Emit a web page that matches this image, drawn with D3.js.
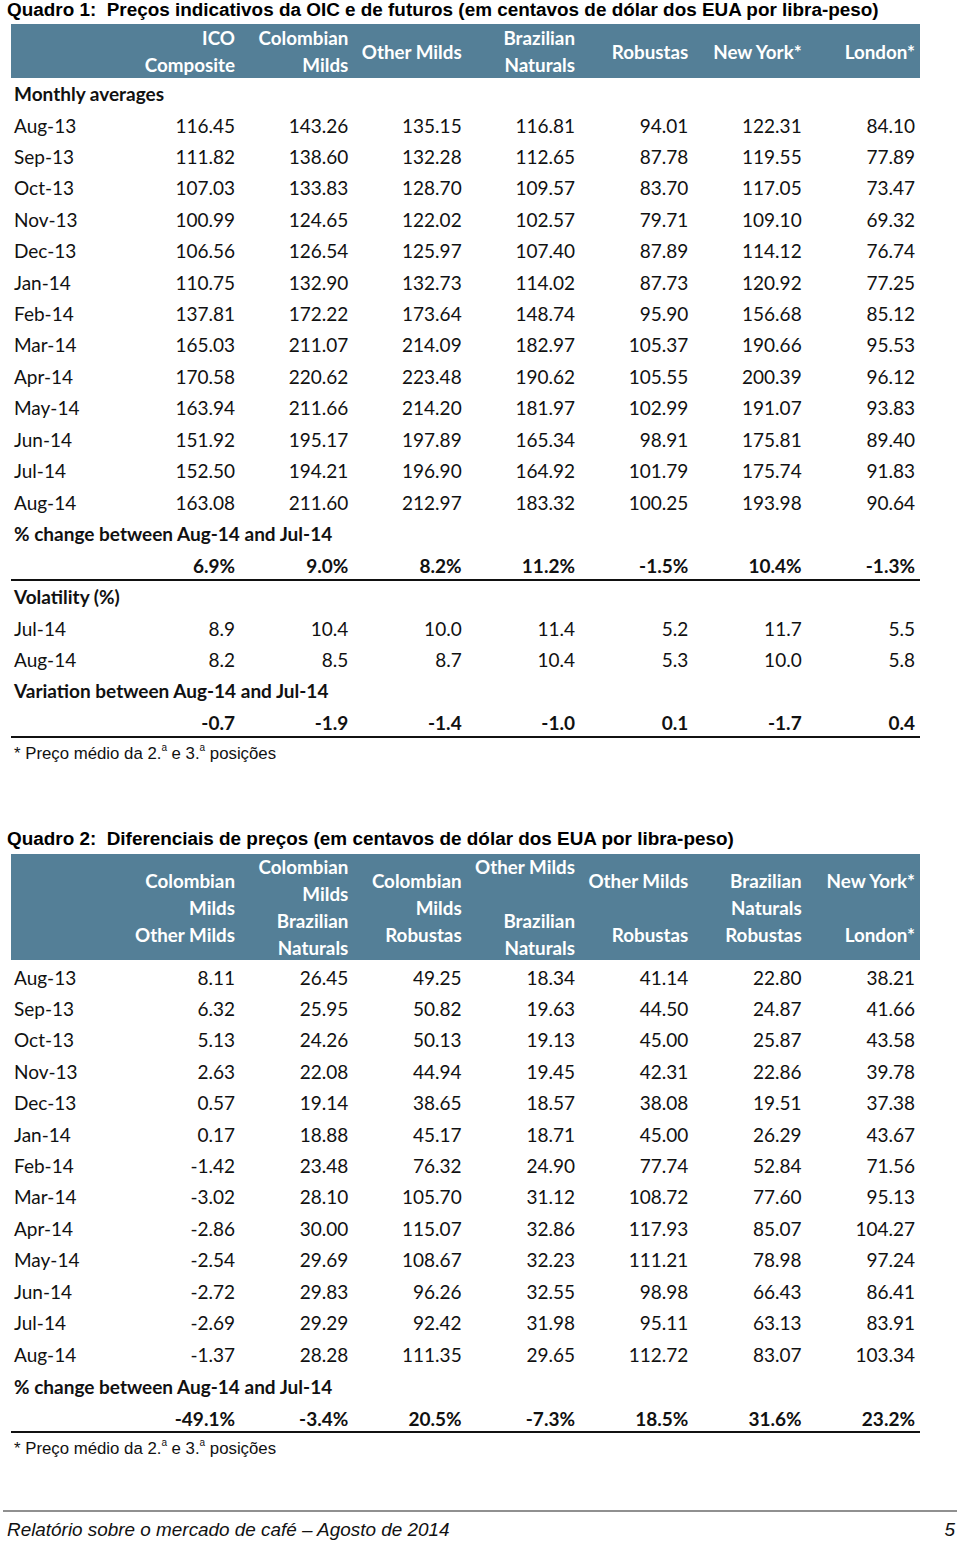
<!DOCTYPE html>
<html>
<head>
<meta charset="utf-8">
<script src="https://cdn.jsdelivr.net/npm/d3@7"></script>
<style>
  body { margin: 0; background: #fff; }
  text { white-space: pre; }
</style>
</head>
<body>
<div id="chart"></div>
<script>
// ---- DATA ----
const months = ["Aug-13", "Sep-13", "Oct-13", "Nov-13", "Dec-13", "Jan-14", "Feb-14",
    "Mar-14", "Apr-14", "May-14", "Jun-14", "Jul-14", "Aug-14"];

// Quadro 1 headers + series (monthly averages)
const headers1 = [["ICO", "Composite"], ["Colombian", "Milds"], ["Other Milds"],
    ["Brazilian", "Naturals"], ["Robustas"], ["New York*"], ["London*"]];
const icoComposite = [116.45, 111.82, 107.03, 100.99, 106.56, 110.75, 137.81, 165.03, 170.58, 163.94, 151.92, 152.50, 163.08];
const colombianMilds = [143.26, 138.60, 133.83, 124.65, 126.54, 132.90, 172.22, 211.07, 220.62, 211.66, 195.17, 194.21, 211.60];
const otherMilds = [135.15, 132.28, 128.70, 122.02, 125.97, 132.73, 173.64, 214.09, 223.48, 214.20, 197.89, 196.90, 212.97];
const brazilianNaturals = [116.81, 112.65, 109.57, 102.57, 107.40, 114.02, 148.74, 182.97, 190.62, 181.97, 165.34, 164.92, 183.32];
const robustas = [94.01, 87.78, 83.70, 79.71, 87.89, 87.73, 95.90, 105.37, 105.55, 102.99, 98.91, 101.79, 100.25];
const newYork = [122.31, 119.55, 117.05, 109.10, 114.12, 120.92, 156.68, 190.66, 200.39, 191.07, 175.81, 175.74, 193.98];
const london = [84.10, 77.89, 73.47, 69.32, 76.74, 77.25, 85.12, 95.53, 96.12, 93.83, 89.40, 91.83, 90.64];
const pctChange1 = [6.9, 9.0, 8.2, 11.2, -1.5, 10.4, -1.3];
const volJul14 = [8.9, 10.4, 10.0, 11.4, 5.2, 11.7, 5.5];
const volAug14 = [8.2, 8.5, 8.7, 10.4, 5.3, 10.0, 5.8];
const volVariation = [-0.7, -1.9, -1.4, -1.0, 0.1, -1.7, 0.4];

// Quadro 2 headers + differentials ("" = empty header line)
const headers2 = [["Colombian", "Milds", "Other Milds"],
    ["Colombian", "Milds", "Brazilian", "Naturals"],
    ["Colombian", "Milds", "Robustas"],
    ["Other Milds", "", "Brazilian", "Naturals"],
    ["Other Milds", "", "Robustas"],
    ["Brazilian", "Naturals", "Robustas"],
    ["New York*", "", "London*"]];
const colVsOther = [8.11, 6.32, 5.13, 2.63, 0.57, 0.17, -1.42, -3.02, -2.86, -2.54, -2.72, -2.69, -1.37];
const colVsBraz = [26.45, 25.95, 24.26, 22.08, 19.14, 18.88, 23.48, 28.10, 30.00, 29.69, 29.83, 29.29, 28.28];
const colVsRob = [49.25, 50.82, 50.13, 44.94, 38.65, 45.17, 76.32, 105.70, 115.07, 108.67, 96.26, 92.42, 111.35];
const otherVsBraz = [18.34, 19.63, 19.13, 19.45, 18.57, 18.71, 24.90, 31.12, 32.86, 32.23, 32.55, 31.98, 29.65];
const otherVsRob = [41.14, 44.50, 45.00, 42.31, 38.08, 45.00, 77.74, 108.72, 117.93, 111.21, 98.98, 95.11, 112.72];
const brazVsRob = [22.80, 24.87, 25.87, 22.86, 19.51, 26.29, 52.84, 77.60, 85.07, 78.98, 66.43, 63.13, 83.07];
const nyVsLondon = [38.21, 41.66, 43.58, 39.78, 37.38, 43.67, 71.56, 95.13, 104.27, 97.24, 86.41, 83.91, 103.34];
const pctChange2 = [-49.1, -3.4, 20.5, -7.3, 18.5, 31.6, 23.2];

const title1 = "Quadro 1:  Preços indicativos da OIC e de futuros (em centavos de dólar dos EUA por libra-peso)";
const title2 = "Quadro 2:  Diferenciais de preços (em centavos de dólar dos EUA por libra-peso)";
const footer = "Relatório sobre o mercado de café – Agosto de 2014";
const pageNo = "5";

// ---- SETUP ----
const W = 960, H = 1541;
const headFill = "#547f97";
const bodyFont = "Lato, 'Open Sans', sans-serif";
const arial = "'Liberation Sans', Arial, sans-serif";
// plain hyphen for negatives, like the source table
const locale = d3.formatLocale({ decimal: ".", thousands: ",", grouping: [3], currency: ["$", ""], minus: "-" });
const fmt2 = locale.format(".2f");
const fmt1 = locale.format(".1f");
const pct = (v) => fmt1(v) + "%";

const svg = d3.select("#chart").append("svg")
    .attr("width", W)
    .attr("height", H);

// column right edges shared by both tables
const x = d3.scaleLinear().domain([0, 6]).range([235, 915]);
const tableLeft = 11, tableRight = 920, labelX = 14;

function cellRow(g, values, y, format, bold) {
    g.append("g").selectAll("text").data(values).join("text")
        .attr("x", (d, i) => x(i))
        .attr("y", y)
        .attr("text-anchor", "end")
        .attr("dominant-baseline", "central")
        .attr("font-family", bodyFont)
        .attr("font-size", 19)
        .attr("font-weight", bold ? "bold" : "normal")
        .attr("fill", "#111")
        .text(format);
}

function label(g, txt, y, bold) {
    g.append("text")
        .attr("x", labelX).attr("y", y)
        .attr("dominant-baseline", "central")
        .attr("font-family", bodyFont)
        .attr("font-size", 19)
        .attr("font-weight", bold ? "bold" : "normal")
        .attr("fill", "#111")
        .text(txt);
}

function rule(g, y) {
    g.append("line")
        .attr("x1", tableLeft).attr("x2", tableRight)
        .attr("y1", y).attr("y2", y)
        .attr("stroke", "#111").attr("stroke-width", 2);
}

function title(g, txt, y) {
    g.append("text")
        .attr("x", 7).attr("y", y)
        .attr("dominant-baseline", "central")
        .attr("font-family", arial)
        .attr("font-size", 18.9)
        .attr("font-weight", "bold")
        .attr("fill", "#000")
        .text(txt);
}

function header(g, heads, top, bottom, lineStep) {
    g.append("rect")
        .attr("x", tableLeft).attr("y", top)
        .attr("width", tableRight - tableLeft).attr("height", bottom - top)
        .attr("fill", headFill);
    const mid = (top + bottom) / 2;
    heads.forEach((lines, i) => {
        const t = g.append("text")
            .attr("text-anchor", "end")
            .attr("font-family", bodyFont)
            .attr("font-size", 18.8)
            .attr("font-weight", "bold")
            .attr("fill", "#fff");
        lines.forEach((ln, k) => {
            t.append("tspan")
                .attr("x", x(i))
                .attr("y", mid + (k - (lines.length - 1) / 2) * lineStep)
                .attr("dominant-baseline", "central")
                .text(ln);
        });
    });
}

function footnote(g, y) {
    const t = g.append("text")
        .attr("x", labelX).attr("y", y)
        .attr("dominant-baseline", "central")
        .attr("font-family", arial)
        .attr("font-size", 16.8)
        .attr("fill", "#111");
    t.append("tspan").text("* Preço médio da 2.");
    t.append("tspan").attr("font-size", 10).attr("dy", -6).text("a");
    t.append("tspan").attr("dy", 6).text(" e 3.");
    t.append("tspan").attr("font-size", 10).attr("dy", -6).text("a");
    t.append("tspan").attr("dy", 6).text(" posições");
}

// ---- QUADRO 1 ----
const g1 = svg.append("g");
title(g1, title1, 9);
header(g1, headers1, 24, 78, 27);
label(g1, "Monthly averages", 93, true);

const y1 = d3.scaleLinear().domain([0, months.length - 1]).range([125, 502]);
const series1 = [icoComposite, colombianMilds, otherMilds, brazilianNaturals, robustas, newYork, london];
months.forEach((m, r) => {
    label(g1, m, y1(r), false);
    cellRow(g1, series1.map(s => s[r]), y1(r), fmt2, false);
});
label(g1, "% change between Aug-14 and Jul-14", 533, true);
cellRow(g1, pctChange1, 565, pct, true);
rule(g1, 580);
label(g1, "Volatility (%)", 596, true);
label(g1, "Jul-14", 628, false);
cellRow(g1, volJul14, 628, fmt1, false);
label(g1, "Aug-14", 659, false);
cellRow(g1, volAug14, 659, fmt1, false);
label(g1, "Variation between Aug-14 and Jul-14", 690, true);
cellRow(g1, volVariation, 722, fmt1, true);
rule(g1, 737);
footnote(g1, 753);

// ---- QUADRO 2 ----
const g2 = svg.append("g");
title(g2, title2, 838);
header(g2, headers2, 854, 960, 27);

const y2 = d3.scaleLinear().domain([0, months.length - 1]).range([977, 1354]);
const series2 = [colVsOther, colVsBraz, colVsRob, otherVsBraz, otherVsRob, brazVsRob, nyVsLondon];
months.forEach((m, r) => {
    label(g2, m, y2(r), false);
    cellRow(g2, series2.map(s => s[r]), y2(r), fmt2, false);
});
label(g2, "% change between Aug-14 and Jul-14", 1386, true);
cellRow(g2, pctChange2, 1418, pct, true);
rule(g2, 1432);
footnote(g2, 1448);

// ---- FOOTER ----
svg.append("line")
    .attr("x1", 3).attr("x2", 957)
    .attr("y1", 1511).attr("y2", 1511)
    .attr("stroke", "#222").attr("stroke-width", 1.2);
svg.append("text")
    .attr("x", 7).attr("y", 1529)
    .attr("dominant-baseline", "central")
    .attr("font-family", arial).attr("font-size", 18.9)
    .attr("font-style", "italic").attr("fill", "#111")
    .text(footer);
svg.append("text")
    .attr("x", 955).attr("y", 1529)
    .attr("text-anchor", "end")
    .attr("dominant-baseline", "central")
    .attr("font-family", arial).attr("font-size", 18.9)
    .attr("font-style", "italic").attr("fill", "#111")
    .text(pageNo);
</script>
</body>
</html>
